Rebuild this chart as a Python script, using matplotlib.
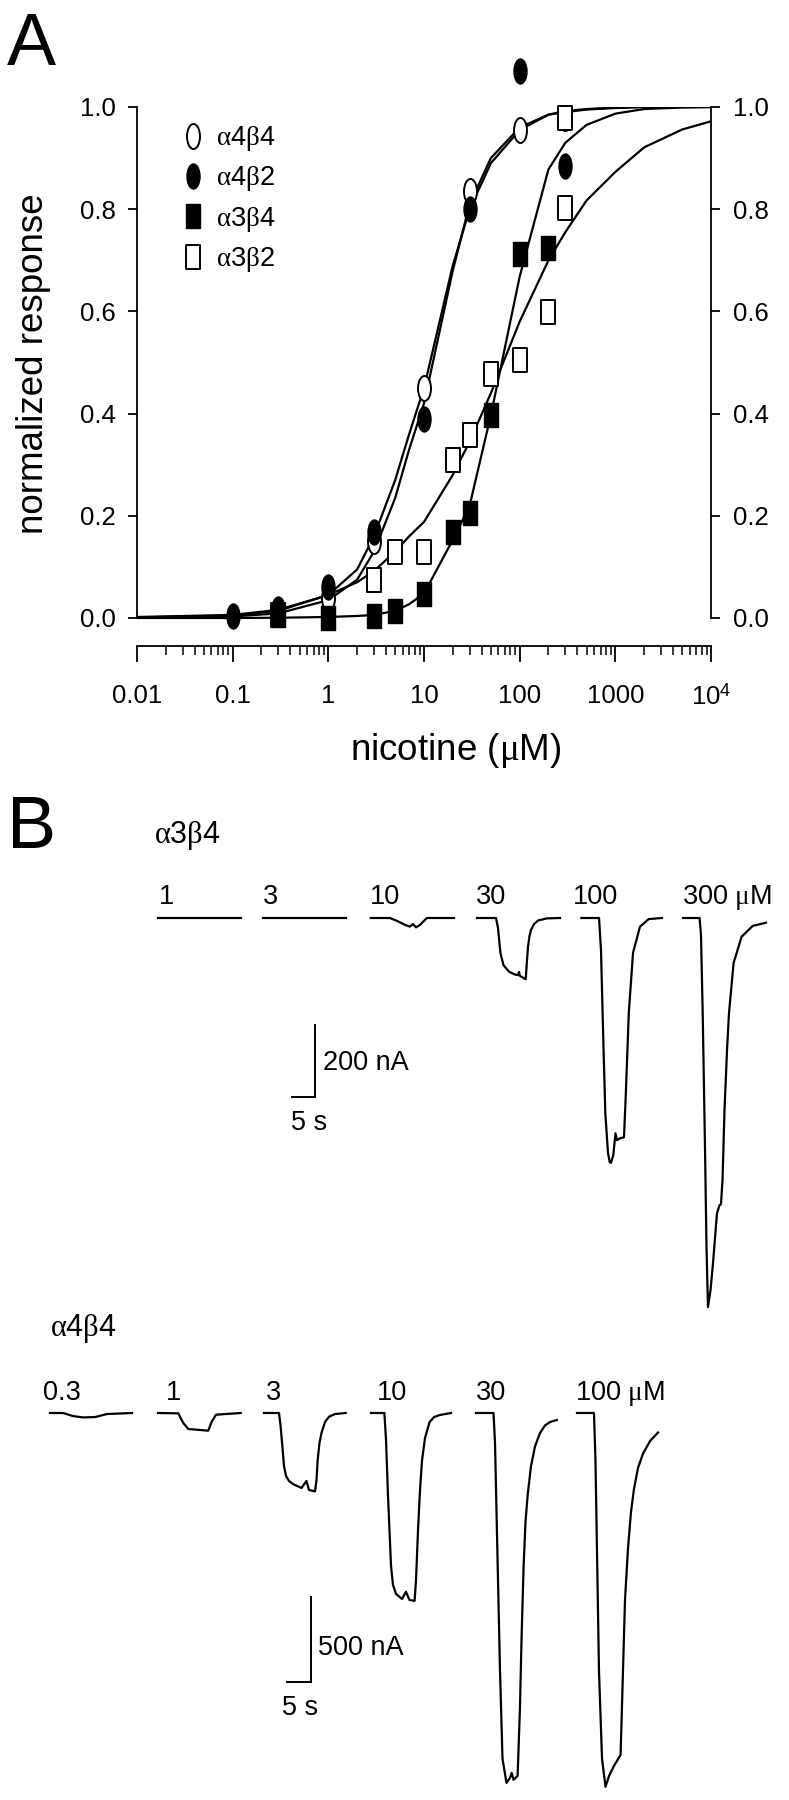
import numpy as np
import matplotlib
matplotlib.use('Agg')
import matplotlib.pyplot as plt
from matplotlib.path import Path
from matplotlib.ticker import FixedLocator, FixedFormatter, LogLocator

plt.rcParams['font.family'] = ['Liberation Sans', 'DejaVu Sans']
plt.rcParams['mathtext.fontset'] = 'custom'
plt.rcParams['mathtext.rm'] = 'Liberation Sans'
plt.rcParams['mathtext.it'] = 'Liberation Serif'
plt.rcParams['mathtext.bf'] = 'Liberation Sans:bold'

# ---------------- panel A data (nicotine uM -> normalized response) ----------------
a4b4_conc = [0.3, 1, 3, 10, 30, 100, 300]
a4b4_resp = [0.010, 0.040, 0.150, 0.450, 0.836, 0.955, 0.978]
a4b2_conc = [0.1, 0.3, 1, 3, 10, 30, 100, 300]
a4b2_resp = [0.003, 0.017, 0.061, 0.168, 0.390, 0.800, 1.070, 0.885]
a3b4_conc = [0.3, 1, 3, 5, 10, 20, 30, 50, 100, 200]
a3b4_resp = [0.005, 0.000, 0.003, 0.013, 0.047, 0.169, 0.205, 0.397, 0.712, 0.725]
a3b2_conc = [0.3, 3, 5, 10, 20, 30, 50, 100, 200, 300, 300]
a3b2_resp = [0.005, 0.074, 0.129, 0.129, 0.310, 0.358, 0.478, 0.504, 0.598, 0.803, 0.978]

# fitted curves
fit_conc = [0.01, 0.1, 0.3, 1, 2, 3, 5, 7, 10, 20, 30, 50, 100, 200, 300, 500, 1000, 2000, 5000, 10000]
fit_a4b2 = [0.002, 0.006, 0.016, 0.045, 0.095, 0.160, 0.270, 0.360, 0.450, 0.690, 0.800, 0.890, 0.955, 0.985, 0.990, 0.995, 0.998, 1.0, 1.0, 1.0]
fit_a4b4 = [0.001, 0.003, 0.009, 0.035, 0.075, 0.130, 0.235, 0.330, 0.420, 0.680, 0.810, 0.900, 0.960, 0.985, 0.992, 0.996, 0.999, 1.0, 1.0, 1.0]
fit_a3b4 = [0.0, 0.0, 0.0005, 0.002, 0.004, 0.006, 0.014, 0.027, 0.048, 0.153, 0.220, 0.397, 0.668, 0.878, 0.930, 0.965, 0.987, 0.996, 0.999, 1.0]
fit_a3b2 = [0.001, 0.005, 0.014, 0.045, 0.070, 0.092, 0.130, 0.160, 0.188, 0.280, 0.345, 0.440, 0.580, 0.700, 0.755, 0.817, 0.873, 0.921, 0.956, 0.972]

x_ticks = [0.01, 0.1, 1, 10, 100, 1000, 10000]
x_ticklabels = ['0.01', '0.1', '1', '10', '100', '1000', r'$10^4$']
y_ticks = [0.0, 0.2, 0.4, 0.6, 0.8, 1.0]
y_ticklabels = ['0.0', '0.2', '0.4', '0.6', '0.8', '1.0']

# ---------------- panel B data: current traces (s, nA) ----------------
a3b4_labels = ['1', '3', '10', '30', '100', r'300 $\mu$M']
a3b4_t = [
    [0, 18.1],
    [0, 18.0],
    [0, 4.13, 5.7, 7.43, 8.46, 9.17, 9.83, 10.7, 12.2, 18.1],
    [0, 4.13, 4.57, 5.09, 5.76, 6.96, 8.04, 8.91, 9.13, 9.35, 10.59, 10.87, 11.09, 11.41, 11.74, 12.39, 13.26, 15.22, 18.04],
    [0, 3.83, 4.26, 4.8, 5.2, 5.78, 6.15, 6.43, 6.93, 7.41, 7.74, 8.39, 9.26, 9.63, 10.3, 11.22, 12.74, 14.63, 17.52],
    [0, 3.61, 3.91, 4.28, 4.78, 5.11, 5.43, 5.98, 6.52, 7.39, 7.93, 8.26, 8.59, 9.02, 9.57, 10.0, 11.0, 12.74, 15.15, 18.04],
]
a3b4_i = [
    [0, 0],
    [0, 0],
    [0, 0, -8, -19, -24, -17, -26, -19, 0, 0],
    [0, 0, -28, -97, -131, -149, -156, -159, -150, -161, -170, -117, -80, -50, -33, -17, -7, -1, 0],
    [0, 0, -89, -358, -542, -653, -678, -680, -659, -598, -617, -612, -609, -497, -264, -97, -24, -3, 0],
    [0, 0, -47, -264, -636, -914, -1081, -1034, -959, -820, -798, -795, -728, -534, -367, -264, -125, -52, -22, -13],
]

a4b4_labels = ['0.3', '1', '3', '10', '30', r'100 $\mu$M']
a4b4_t = [
    [0, 2.71, 4.79, 6.88, 9.38, 11.88, 17.08],
    [0, 4.23, 5.27, 6.31, 8.75, 10.48, 11.19, 12.08, 17.23],
    [0, 3.125, 3.44, 3.83, 4.17, 4.58, 5.21, 6.04, 7.81, 8.85, 9.38, 10.63, 10.94, 11.17, 11.56, 12.0, 12.71, 13.54, 14.79, 17.02],
    [0, 2.79, 3.13, 3.54, 4.17, 4.58, 5.21, 6.46, 7.29, 8.02, 9.08, 9.38, 9.79, 10.21, 10.63, 11.25, 12.21, 13.13, 14.31, 16.67],
    [0, 3.65, 3.96, 5.0, 5.52, 6.35, 7.08, 7.42, 7.83, 8.67, 9.17, 9.48, 9.92, 10.31, 10.75, 11.46, 12.29, 13.33, 14.38, 15.42, 16.83],
    [0, 3.54, 3.85, 4.58, 5.21, 5.94, 6.67, 7.71, 9.08, 9.58, 10.0, 10.63, 11.25, 11.88, 12.71, 13.75, 15.21, 16.88],
]
a4b4_i = [
    [0, 0, -18, -26, -24, -6, 0],
    [0, -2, -59, -94, -100, -104, -51, -10, 0],
    [0, 0, -71, -197, -312, -370, -400, -418, -441, -400, -453, -461, -394, -279, -176, -115, -53, -22, -6, 0],
    [0, 0, -159, -486, -899, -1011, -1064, -1094, -1052, -1100, -1105, -982, -692, -453, -279, -147, -53, -24, -12, 0],
    [0, 0, -176, -1517, -2033, -2176, -2146, -2117, -2158, -2134, -1723, -1335, -899, -641, -486, -312, -197, -118, -73, -53, -41],
    [0, 0, -279, -1517, -2033, -2199, -2135, -2075, -2011, -1517, -1099, -794, -582, -445, -323, -239, -165, -115],
]

# ---------------- layout (figure pixels) ----------------
W, H = 789, 1800


def fx(px):
    return px / W


def fy(py):
    return 1 - py / H


fig = plt.figure(figsize=(W / 100, H / 100), dpi=100)

# ---------- panel A ----------
axA = fig.add_axes([fx(137), fy(646), (711 - 137) / W, (646 - 107) / H])
axA.set_xscale('log')
axA.set_xlim(0.01, 1e4)
axA.set_ylim(-(646 - 618) / 511, 1.0)

for s in ['left', 'right', 'bottom']:
    axA.spines[s].set_linewidth(1.3)
axA.spines['top'].set_visible(False)
axA.spines['left'].set_bounds(0, 1)
axA.spines['right'].set_bounds(0, 1)

axA.xaxis.set_major_locator(FixedLocator(x_ticks))
axA.xaxis.set_major_formatter(FixedFormatter(x_ticklabels))
axA.xaxis.set_minor_locator(LogLocator(base=10, subs=np.arange(2, 10), numticks=30))
axA.yaxis.set_major_locator(FixedLocator(y_ticks))
axA.yaxis.set_major_formatter(FixedFormatter(y_ticklabels))

axA.tick_params(axis='x', which='major', direction='out', length=11.5, width=1.3, pad=16, labelsize=18.5)
axA.tick_params(axis='x', which='minor', direction='out', length=6.5, width=1.1)
axA.tick_params(axis='y', which='major', direction='out', length=6.5, width=1.3, pad=9, labelsize=18.5,
                left=True, right=True, labelleft=True, labelright=True)

circ = Path.unit_circle()
ellipse_mk = Path(circ.vertices * np.array([0.52, 1.0]), circ.codes)
rect_mk = Path([(-0.57, -1), (0.57, -1), (0.57, 1), (-0.57, 1), (-0.57, -1)],
               [Path.MOVETO, Path.LINETO, Path.LINETO, Path.LINETO, Path.CLOSEPOLY])

for fit in [fit_a4b2, fit_a4b4, fit_a3b4, fit_a3b2]:
    axA.plot(fit_conc, fit, color='black', lw=1.6, zorder=2, solid_joinstyle='round')

h_a4b4, = axA.plot(a4b4_conc, a4b4_resp, ls='none', marker=ellipse_mk, ms=18, mfc='white', mec='black',
                   mew=1.4, clip_on=False, zorder=3, label=r'$\alpha$4$\beta$4')
h_a3b2, = axA.plot(a3b2_conc, a3b2_resp, ls='none', marker=rect_mk, ms=17, mfc='white', mec='black',
                   mew=1.4, clip_on=False, zorder=3, label=r'$\alpha$3$\beta$2')
h_a4b2, = axA.plot(a4b2_conc, a4b2_resp, ls='none', marker=ellipse_mk, ms=18, mfc='black', mec='black',
                   mew=1.0, clip_on=False, zorder=4, label=r'$\alpha$4$\beta$2')
h_a3b4, = axA.plot(a3b4_conc, a3b4_resp, ls='none', marker=rect_mk, ms=17, mfc='black', mec='black',
                   mew=1.0, clip_on=False, zorder=4, label=r'$\alpha$3$\beta$4')

axA.legend(handles=[h_a4b4, h_a4b2, h_a3b4, h_a3b2], loc='upper left',
           bbox_to_anchor=(fx(182), fy(124)), bbox_transform=fig.transFigure,
           frameon=False, fontsize=19.5, numpoints=1, handlelength=0.8, handletextpad=0.45,
           labelspacing=0.42, borderpad=0, borderaxespad=0)

fig.text(fx(34), fy(364), 'normalized response', rotation=90, ha='center', va='center', fontsize=26.5)
fig.text(fx(456), fy(760), r'nicotine ($\mu$M)', ha='center', va='baseline', fontsize=26.5)
fig.text(fx(7), fy(65), 'A', fontsize=53, va='baseline')

# ---------- panel B ----------
fig.text(fx(7), fy(848), 'B', fontsize=53, va='baseline')

# top block: alpha3beta4, 5 s = 23 px, 200 nA = 72 px, baseline at y=918 px
top_sx, top_sy, top_base = 23 / 5, 72 / 200, 918
axB1 = fig.add_axes([0, fy(1360), 1, (1360 - 860) / H])
axB1.set_xlim(0, W / top_sx)
axB1.set_ylim(-(1360 - top_base) / top_sy, (top_base - 860) / top_sy)
axB1.axis('off')

top_starts = [157.5, 262.8, 370.8, 477, 581.4, 683]
for x0, t, cur in zip(top_starts, a3b4_t, a3b4_i):
    axB1.plot(x0 / top_sx + np.array(t), cur, color='black', lw=1.6, solid_joinstyle='round')

sb1_x, sb1_y = 315 / top_sx, -(1097 - top_base) / top_sy
axB1.plot([sb1_x - 5, sb1_x, sb1_x], [sb1_y, sb1_y, sb1_y + 200], color='black', lw=1.4,
          solid_joinstyle='miter')

fig.text(fx(154), fy(843), r'$\alpha$3$\beta$4', fontsize=22, va='baseline')
for x, lab in zip([159, 263, 370, 476, 573, 682], a3b4_labels):
    fig.text(fx(x), fy(904), lab, fontsize=19.5, va='baseline')
fig.text(fx(323), fy(1070), '200 nA', fontsize=19.5, va='baseline')
fig.text(fx(291), fy(1130), '5 s', fontsize=19.5, va='baseline')

# bottom block: alpha4beta4, 5 s = 24 px, 500 nA = 85 px, baseline at y=1413 px
bot_sx, bot_sy, bot_base = 24 / 5, 85 / 500, 1413
axB2 = fig.add_axes([0, 0, 1, (1800 - 1350) / H])
axB2.set_xlim(0, W / bot_sx)
axB2.set_ylim(-(1800 - bot_base) / bot_sy, (bot_base - 1350) / bot_sy)
axB2.axis('off')

bot_starts = [50, 158, 264, 371, 476, 577]
for x0, t, cur in zip(bot_starts, a4b4_t, a4b4_i):
    axB2.plot(x0 / bot_sx + np.array(t), cur, color='black', lw=1.6, solid_joinstyle='round')

sb2_x, sb2_y = 311 / bot_sx, -(1682 - bot_base) / bot_sy
axB2.plot([sb2_x - 5, sb2_x, sb2_x], [sb2_y, sb2_y, sb2_y + 500], color='black', lw=1.4,
          solid_joinstyle='miter')

fig.text(fx(50), fy(1336), r'$\alpha$4$\beta$4', fontsize=22, va='baseline')
for x, lab in zip([43, 166, 266, 377, 476, 575], a4b4_labels):
    fig.text(fx(x), fy(1400), lab, fontsize=19.5, va='baseline')
fig.text(fx(318), fy(1655), '500 nA', fontsize=19.5, va='baseline')
fig.text(fx(282), fy(1715), '5 s', fontsize=19.5, va='baseline')

fig.savefig('out.png', dpi=100)
